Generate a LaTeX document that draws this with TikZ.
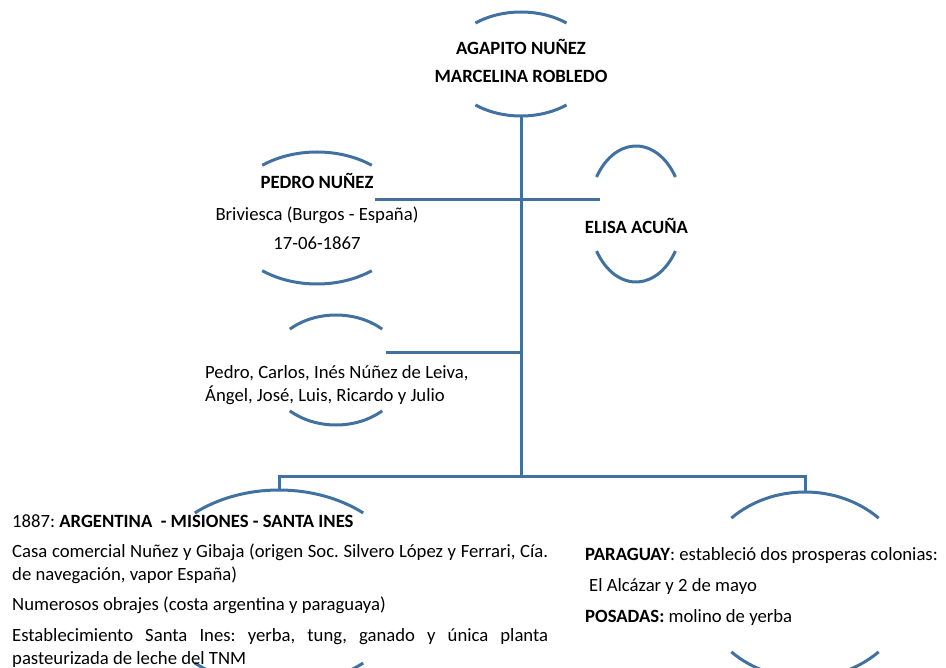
\documentclass[tikz,border=0pt]{standalone}
\usepackage{fontspec}
\setmainfont{Carlito}
\usepackage{tikz}
\usetikzlibrary{shapes.geometric,positioning}
\definecolor{arcblue}{RGB}{65,113,160}
\frenchspacing

% top and bottom arcs that frame one family box
\newcommand{\famarcs}[4]{%
  \draw[famarc] ([shift={(#4:#2 and #3)}]#1.center)
    arc[start angle=#4, end angle=180-#4, x radius=#2, y radius=#3];
  \draw[famarc] ([shift={(180+#4:#2 and #3)}]#1.center)
    arc[start angle=180+#4, end angle=360-#4, x radius=#2, y radius=#3];}

\begin{document}
\begin{tikzpicture}[
  x=1pt, y=1pt,
  every node/.style={font=\fontsize{18.7}{23}\selectfont, inner sep=0pt},
  famhold/.style={ellipse, inner sep=0pt},
  famarc/.style={draw=arcblue, line width=3pt},
  lnk/.style={draw=arcblue, line width=3pt},
  famname/.style={align=center, anchor=base},
  famnote/.style={align=left, anchor=base west}]

\useasboundingbox (0,0) rectangle (946,-668);

% the boxes (only their arcs are drawn)
\node[famhold, minimum width=148, minimum height=104] (aga)   at (521,-64)  {};
\node[famhold, minimum width=182, minimum height=132] (ped)   at (317,-218) {};
\node[famhold, minimum width=94,  minimum height=136] (elisa) at (636,-214) {};
\node[famhold, minimum width=138, minimum height=110] (hij)   at (336,-370) {};
\node[famhold, minimum width=262, minimum height=196] (arg)   at (279,-588) {};
\node[famhold, minimum width=212, minimum height=186] (par)   at (805,-585) {};

\famarcs{aga}{74}{52}{52}
\famarcs{ped}{91}{66}{53}
\famarcs{elisa}{47}{68}{33}
\famarcs{hij}{69}{55}{48}
\famarcs{arg}{131}{98}{50}
\famarcs{par}{106}{93}{46}

% texts (a node of several lines sits on the baseline of its last line)
\node[famname] (agaTxt) at (521,-83)
  {\textbf{AGAPITO NUÑEZ}\\[5pt] \textbf{MARCELINA ROBLEDO}};
\node[famname] (pedTxt) at (317,-250)
  {\textbf{PEDRO NUÑEZ}\\[9pt] Briviesca (Burgos - España)\\[6pt] 17-06-1867};
\node[famname] (elisaTxt) at (636.5,-234) {\textbf{ELISA ACUÑA}};
\node[famnote] (hijTxt) at (205,-402)
  {Pedro, Carlos, Inés Núñez de Leiva,\\ Ángel, José, Luis, Ricardo y Julio};
\node[anchor=base west, text width=536, align=justify] (argTxt) at (12,-527)
  {\fontsize{18.7}{23}\selectfont\frenchspacing\setlength{\parskip}{7.5pt}%
   1887: \textbf{ARGENTINA\ \ - MISIONES - SANTA INES}\par
   Casa comercial Nuñez y Gibaja (origen Soc. Silvero López y Ferrari, Cía.\linebreak
   de navegación, vapor España)\par
   Numerosos obrajes (costa argentina y paraguaya)\par
   Establecimiento Santa Ines: yerba, tung, ganado y única planta\linebreak
   pasteurizada de leche del TNM\par};
\node[famnote] (parTxt) at (585,-622)
  {\textbf{PARAGUAY}: estableció dos prosperas colonias:\\[8pt]
   \hspace{4pt}El Alcázar y 2 de mayo\\[8pt]
   \textbf{POSADAS:} molino de yerba};

% connectors
\coordinate (fork)   at (521,-477);
\coordinate (pedJ)   at (375,-200);
\coordinate (elisaJ) at (600,-200);
\coordinate (hijJ)   at (386,-353);

\draw[lnk] (aga.south) -- (fork);
\draw[lnk] (pedJ) -- (elisaJ);
\draw[lnk] (hijJ) -- (hijJ -| fork);
\draw[lnk] (arg.north) |- (fork) -| (par.north);

\end{tikzpicture}
\end{document}
